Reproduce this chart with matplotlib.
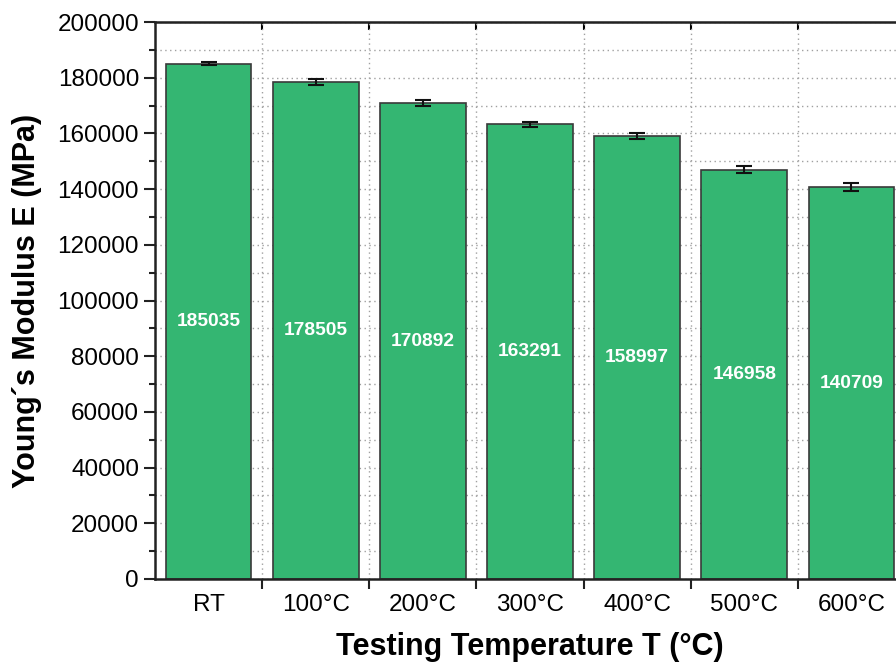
import numpy as np
import matplotlib
matplotlib.use("Agg")
import matplotlib.pyplot as plt
from matplotlib.ticker import MultipleLocator, FixedLocator, NullFormatter

plt.rcParams['font.family'] = ['Liberation Sans', 'DejaVu Sans']

# data
categories = ["RT", "100°C", "200°C", "300°C", "400°C", "500°C", "600°C"]
modulus = [185035, 178505, 170892, 163291, 158997, 146958, 140709]
errors = [500, 1000, 1000, 900, 1100, 1300, 1500]

fig = plt.figure(figsize=(8.96, 6.63), dpi=100)
ax = fig.add_axes([0.173, 0.1267, 0.837, 0.840])

x = np.arange(len(categories))
ax.bar(x, modulus, width=0.8, color="#34b672", edgecolor="#3a3a3a",
       linewidth=1.2, zorder=2)
ax.errorbar(x, modulus, yerr=errors, fmt="none", ecolor="#111111",
            elinewidth=1.5, capsize=6, capthick=1.5, zorder=3)

for xi, v in zip(x, modulus):
    ax.text(xi, v / 2, str(v), ha="center", va="center", color="white",
            fontsize=13.8, fontweight="bold", zorder=4)

ax.set_xlim(-0.5, len(categories) - 0.5)
ax.set_ylim(0, 200000)

# y ticks: major every 20000, minor every 10000
ax.yaxis.set_major_locator(MultipleLocator(20000))
ax.yaxis.set_minor_locator(MultipleLocator(10000))
ax.tick_params(axis="y", which="major", direction="out", length=8, width=1.5,
               labelsize=17.5, color="#222222")
ax.tick_params(axis="y", which="minor", direction="out", length=4, width=1.5,
               color="#222222")

# x ticks: labels at centres, tick marks at boundaries
ax.set_xticks(x)
ax.set_xticklabels(categories)
ax.xaxis.set_minor_locator(FixedLocator(np.arange(0.5, len(categories) - 0.5, 1)))
ax.tick_params(axis="x", which="major", length=0, labelsize=17.5, pad=11)
ax.tick_params(axis="x", which="minor", direction="out", length=7, width=1.5,
               color="#222222")

# grid
ax.grid(which="minor", axis="x", linestyle=(0, (1, 2.5)), color="#a0a0a0",
        linewidth=1, zorder=0)
ax.grid(which="both", axis="y", linestyle=(0, (1, 2.5)), color="#a0a0a0",
        linewidth=1, zorder=0)
ax.set_axisbelow(True)

for s in ax.spines.values():
    s.set_linewidth(1.8)
    s.set_color("#222222")

# inward ticks on top and right
top = ax.secondary_xaxis("top")
top.set_xticks(np.arange(0.5, len(categories) - 0.5, 1))
top.tick_params(direction="in", length=6, width=1.5, labeltop=False)
right = ax.secondary_yaxis("right")
right.yaxis.set_major_locator(MultipleLocator(20000))
right.yaxis.set_minor_locator(MultipleLocator(10000))
right.tick_params(which="both", direction="in", length=6, width=1.5,
                  labelright=False)
right.yaxis.set_major_formatter(NullFormatter())

ax.set_xlabel("Testing Temperature T (°C)", fontsize=22, fontweight="bold",
              labelpad=11)
ax.set_ylabel("Young´s Modulus E (MPa)", fontsize=22, fontweight="bold",
              labelpad=11)

fig.savefig("out.png", dpi=100)
